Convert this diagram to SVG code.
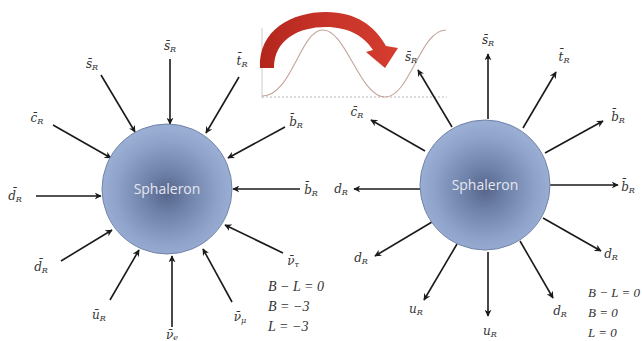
<svg xmlns="http://www.w3.org/2000/svg" width="642" height="341" viewBox="0 0 642 341">
<defs>
<radialGradient id="sph" cx="0.5" cy="0.53" r="0.5">
<stop offset="0" stop-color="#56648a"/>
<stop offset="0.35" stop-color="#7084ab"/>
<stop offset="0.8" stop-color="#8fa3cb"/>
<stop offset="1" stop-color="#9aaed4"/>
</radialGradient>
<linearGradient id="red" x1="0" y1="0" x2="1" y2="0">
<stop offset="0" stop-color="#b3261c"/>
<stop offset="0.5" stop-color="#c8342a"/>
<stop offset="1" stop-color="#d43d2e"/>
</linearGradient>
<marker id="ah" viewBox="0 0 10 10" refX="9" refY="5" markerWidth="7" markerHeight="7" orient="auto" markerUnits="userSpaceOnUse">
<path d="M0,0 L10,5 L0,10 L3,5 Z" fill="#1a1a1a"/>
</marker>
</defs>
<style>
.ar{stroke:#1a1a1a;stroke-width:1.6;fill:none;marker-end:url(#ah)}
.lb{font-family:"DejaVu Serif","Liberation Serif",serif;font-style:italic;font-size:12px;fill:#333;text-anchor:middle}
.sb{font-size:8px}
.eq{font-family:"Liberation Serif","DejaVu Serif",serif;font-style:italic;font-size:14px;fill:#333}
.eqr{font-family:"Liberation Serif","DejaVu Serif",serif;font-style:italic;font-size:13px;fill:#333}
.sp{fill:url(#sph);stroke:#7283a8;stroke-width:1}
.st{font-family:"Open Sans","Liberation Sans",sans-serif;font-size:14px;fill:#e4e8f0;text-anchor:middle}
</style>
<rect width="642" height="341" fill="#ffffff"/>

<g id="inset">
<line x1="262" y1="28" x2="262" y2="98" stroke="#cccccc" stroke-width="1"/>
<line x1="262" y1="97" x2="447" y2="97" stroke="#b8b8b8" stroke-width="1" stroke-dasharray="2,2"/>
<path d="M262,96 C292,96 300,30 323,30 C346,30 360,97 385,97 C410,97 420,30 446,30" fill="none" stroke="#c4a59a" stroke-width="1.1"/>
<path d="M260,68 C258,30 292,12 326,12 C356,12 375,26 386,46 L398,48 L385,68 L366,52 L373,50 C364,36 348,27 326,27 C298,27 274,40 274,68 Z" fill="url(#red)"/>
</g>

<g id="connectors">
<line class="ar" x1="170" y1="59" x2="170" y2="124"/>
<line class="ar" x1="101" y1="75" x2="135" y2="132"/>
<line class="ar" x1="239" y1="77" x2="206" y2="133"/>
<line class="ar" x1="53" y1="125" x2="111" y2="158"/>
<line class="ar" x1="285" y1="127" x2="228" y2="158"/>
<line class="ar" x1="36" y1="196" x2="101" y2="196"/>
<line class="ar" x1="300" y1="189" x2="233" y2="189"/>
<line class="ar" x1="61" y1="261" x2="112" y2="230"/>
<line class="ar" x1="110" y1="300" x2="139" y2="250"/>
<line class="ar" x1="172" y1="327" x2="172" y2="256"/>
<line class="ar" x1="232" y1="302" x2="203" y2="249"/>
<line class="ar" x1="283" y1="253" x2="225" y2="225"/>

<line class="ar" x1="452" y1="127" x2="418" y2="70"/>
<line class="ar" x1="488" y1="119" x2="488" y2="54"/>
<line class="ar" x1="523" y1="128" x2="556" y2="72"/>
<line class="ar" x1="425" y1="151" x2="371" y2="120"/>
<line class="ar" x1="545" y1="153" x2="603" y2="121"/>
<line class="ar" x1="420" y1="189" x2="354" y2="189"/>
<line class="ar" x1="550" y1="185" x2="618" y2="185"/>
<line class="ar" x1="432" y1="222" x2="375" y2="256"/>
<line class="ar" x1="457" y1="244" x2="424" y2="300"/>
<line class="ar" x1="488" y1="252" x2="488" y2="316"/>
<line class="ar" x1="520" y1="241" x2="553" y2="298"/>
<line class="ar" x1="543" y1="218" x2="601" y2="251"/>
</g>

<g id="sphaleron-left">
<circle class="sp" cx="167" cy="189" r="65"/>
<text class="st" x="167" y="194">Sphaleron</text>
</g>
<g id="sphaleron-right">
<circle class="sp" cx="485" cy="185" r="65"/>
<text class="st" x="485" y="190">Sphaleron</text>
</g>

<g id="labels-left">
<text class="lb" x="170" y="50">s̄<tspan class="sb" dy="2">R</tspan></text>
<text class="lb" x="92" y="68">s̄<tspan class="sb" dy="2">R</tspan></text>
<text class="lb" x="242" y="65">t̄<tspan class="sb" dy="2">R</tspan></text>
<text class="lb" x="37" y="122">c̄<tspan class="sb" dy="2">R</tspan></text>
<text class="lb" x="296" y="126">b̄<tspan class="sb" dy="2">R</tspan></text>
<text class="lb" x="15" y="200">d̄<tspan class="sb" dy="2">R</tspan></text>
<text class="lb" x="311" y="194">b̄<tspan class="sb" dy="2">R</tspan></text>
<text class="lb" x="41" y="271">d̄<tspan class="sb" dy="2">R</tspan></text>
<text class="lb" x="99" y="319">ū<tspan class="sb" dy="2">R</tspan></text>
<text class="lb" x="172" y="339">ν̄<tspan class="sb" dy="1">e</tspan></text>
<text class="lb" x="240" y="321">ν̄<tspan class="sb" dy="2">μ</tspan></text>
<text class="lb" x="293" y="265">ν̄<tspan class="sb" dy="2">τ</tspan></text>
<text class="eq" x="268" y="291">B − L = 0</text>
<text class="eq" x="268" y="311">B = −3</text>
<text class="eq" x="268" y="331">L = −3</text>
</g>

<g id="labels-right">
<text class="lb" x="411" y="61">s̄<tspan class="sb" dy="2">R</tspan></text>
<text class="lb" x="488" y="44">s̄<tspan class="sb" dy="2">R</tspan></text>
<text class="lb" x="564" y="61">t̄<tspan class="sb" dy="2">R</tspan></text>
<text class="lb" x="357" y="116">c̄<tspan class="sb" dy="2">R</tspan></text>
<text class="lb" x="618" y="121">b̄<tspan class="sb" dy="2">R</tspan></text>
<text class="lb" x="341" y="193">d<tspan class="sb" dy="2">R</tspan></text>
<text class="lb" x="628" y="191">b̄<tspan class="sb" dy="2">R</tspan></text>
<text class="lb" x="361" y="262">d<tspan class="sb" dy="2">R</tspan></text>
<text class="lb" x="416" y="313">u<tspan class="sb" dy="2">R</tspan></text>
<text class="lb" x="490" y="335">u<tspan class="sb" dy="2">R</tspan></text>
<text class="lb" x="560" y="315">d<tspan class="sb" dy="2">R</tspan></text>
<text class="lb" x="611" y="258">d<tspan class="sb" dy="2">R</tspan></text>
<text class="eqr" x="588" y="297">B − L = 0</text>
<text class="eqr" x="588" y="317">B = 0</text>
<text class="eqr" x="588" y="337">L = 0</text>
</g>
</svg>
